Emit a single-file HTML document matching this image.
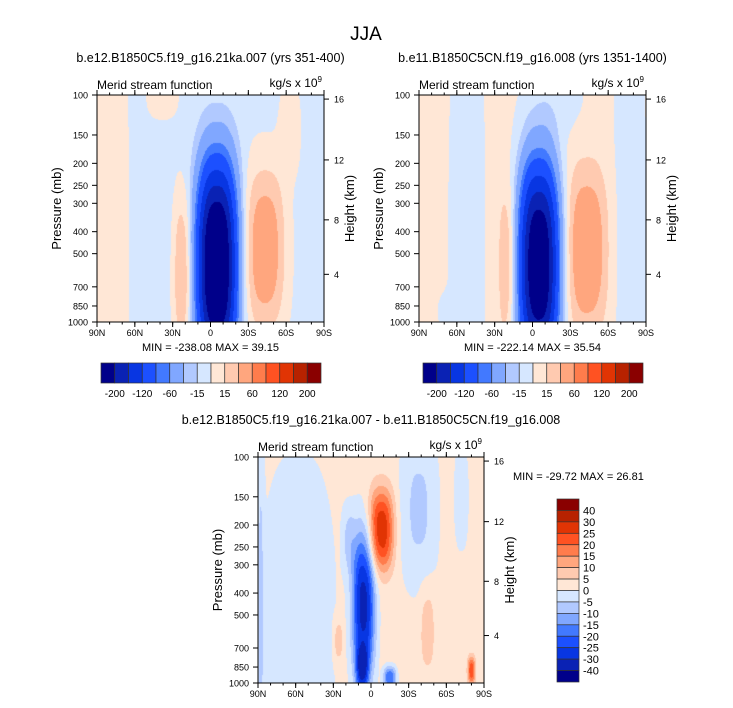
<!DOCTYPE html>
<html><head><meta charset="utf-8">
<style>
html,body{margin:0;padding:0;background:#fff;}
#root{position:relative;width:733px;height:708px;overflow:hidden;font-family:"Liberation Sans",Arial,sans-serif;}
canvas{position:absolute;}
svg{position:absolute;left:0;top:0;}
</style></head>
<body>
<div id="root">
<canvas id="c1"></canvas>
<canvas id="c2"></canvas>
<canvas id="c3"></canvas>
<svg id="ov" width="733" height="708"></svg>
</div>
<script>
// ---- data ----
const colors = ["#00008a","#0a22b4","#0836e2","#1c50ff","#4279ff","#80a7ff","#b1c9ff","#d6e7ff","#ffe7d6","#ffcab0","#ffa67e","#ff7c4c","#ff5222","#e13404","#b72200","#8a0000"];
const levelsFull = [-200,-160,-120,-80,-60,-30,-15,0,15,30,60,80,120,160,200];
const labelsFull = ["-200","-120","-60","-15","15","60","120","200"];
const levelsDiff = [-40,-30,-25,-20,-15,-10,-5,0,5,10,15,20,25,30,40];
const labelsDiff = ["40","30","25","20","15","10","5","0","-5","-10","-15","-20","-25","-30","-40"];
const latTicks = ["90N","60N","30N","0","30S","60S","90S"];
const presTicks = [100,150,200,250,300,400,500,700,850,1000];
const heightTicks = [16,12,8,4];
// blobs: lat (deg, S positive), pressure (mb), lat width, log-p width, amplitude
const base1 = -4;
const lat1 = [5, 43, -22, -78, -38, 63, -22];
const prs1 = [560, 480, 560, 400, 100, 140, 850];
const wl1 = [15.5, 16, 7, 14, 14, 9, 8];
const wp1 = [0.45, 0.36, 0.33, 1.2, 0.12, 0.22, 0.3];
const amp1 = [-265, 48, 30, 10, 9, 10, 8];
const base2 = 4;
const lat2 = [5, 43, -20, -52, 77, 18, -70];
const prs2 = [560, 480, 560, 400, 450, 100, 900];
const wl2 = [15.5, 16, 7, 16, 14, 24, 10];
const wp2 = [0.45, 0.36, 0.33, 1.2, 1.2, 0.2, 0.1];
const amp2 = [-252, 44, 27, -9, -10, -10, -4];
const base3 = 2;
const lat3 = [-6, -7, 8, 38, -58, 45, -26, 80, 15, -88, 72, -18];
const prs3 = [450, 880, 210, 170, 550, 560, 650, 880, 950, 400, 150, 230];
const wl3 = [9, 5, 10, 15, 28, 6, 4, 3, 5, 3, 6, 5];
const wp3 = [0.33, 0.1, 0.18, 0.35, 0.7, 0.2, 0.1, 0.06, 0.05, 1.2, 0.25, 0.15];
const amp3 = [-34, -22, 27, -8, -7, 6, 7, 22, -22, -6, -5, -7];

function field(s, p, base, lat, prs, wl, wp, amp){
  const z = Math.log10(p);
  let v = base;
  for(let k=0;k<lat.length;k++){
    const a = Math.abs((s-lat[k])/wl[k]), b = Math.abs((z-Math.log10(prs[k]))/wp[k]);
    v += amp[k]*Math.exp(-Math.pow(a,2.5)-Math.pow(b,2.5));
  }
  return v;
}
function colorIdx(v, lev){let i=0;while(i<lev.length && v>=lev[i]) i++;return i;}
function hex(h){return [parseInt(h.substr(1,2),16),parseInt(h.substr(3,2),16),parseInt(h.substr(5,2),16)];}
const rgb = colors.map(hex);

function drawField(id, x0,y0,W,H, base,lat,prs,wl,wp,amp, lev){
  const c=document.getElementById(id);
  c.width=W;c.height=H;c.style.left=x0+'px';c.style.top=y0+'px';
  const ctx=c.getContext('2d');const img=ctx.createImageData(W,H);
  for(let j=0;j<H;j++){
    const p=100*Math.pow(10,(j+0.5)/H);
    for(let i=0;i<W;i++){
      const s=-90+180*(i+0.5)/W;
      const col=rgb[colorIdx(field(s,p,base,lat,prs,wl,wp,amp),lev)];
      const o=(j*W+i)*4;img.data[o]=col[0];img.data[o+1]=col[1];img.data[o+2]=col[2];img.data[o+3]=255;
    }
  }
  ctx.putImageData(img,0,0);
}
const NS="http://www.w3.org/2000/svg";
const ov=document.getElementById('ov');
function el(tag,attrs,text){const e=document.createElementNS(NS,tag);for(const k in attrs)e.setAttribute(k,attrs[k]);if(text!==undefined)e.textContent=text;ov.appendChild(e);return e;}
function txt(x,y,s,size,anchor,name,extra){
  const e=el('text',Object.assign({x:x,y:y,'font-size':size,'text-anchor':anchor||'middle',fill:'#000','font-family':'Liberation Sans, Arial, sans-serif'},extra||{}),s);
  
  
  return e;
}
function line(x1,y1,x2,y2,name){
  const e=el('line',{x1:x1,y1:y1,x2:x2,y2:y2,stroke:'#000','stroke-width':1});
  
  
}
const heightFrac=[0.018,0.286,0.55,0.79];

function axes(x0,y0,W,H,title,mm,mmx,mmy,prefix){
  const yp=p=>y0+H*Math.log10(p/100);
  const r=el('rect',{x:x0,y:y0,width:W,height:H,fill:'none',stroke:'#000','stroke-width':1});
  
  
  latTicks.forEach((t,k)=>{const x=x0+W*k/6;
    line(x,y0+H,x,y0+H+5,prefix+'-x-tick');line(x,y0,x,y0-5,prefix+'-x-tick-top');
    txt(x,y0+H+14,t,9,'middle',prefix+'-x-tick-label');});
  for(let k=0;k<=18;k++){const x=x0+W*k/18;line(x,y0+H,x,y0+H+2.5,prefix+'-x-minor-tick');line(x,y0,x,y0-2.5,prefix+'-x-minor-tick-top');}
  presTicks.forEach(p=>{const y=yp(p);line(x0-5,y,x0,y,prefix+'-y-tick');txt(x0-9,y+3.5,String(p),9,'end',prefix+'-y-tick-label');});
  heightTicks.forEach((h,k)=>{const y=y0+H*heightFrac[k];line(x0+W,y,x0+W+5,y,prefix+'-height-tick');txt(x0+W+10,y+3.5,String(h),9,'start',prefix+'-height-tick-label');});
  txt(x0-40,y0+H/2,'Pressure (mb)',13,'middle',prefix+'-y-axis-title',{transform:`rotate(-90 ${x0-40} ${y0+H/2})`,dy:'4'});
  txt(x0+W+26,y0+H/2,'Height (km)',13,'middle',prefix+'-height-axis-title',{transform:`rotate(-90 ${x0+W+26} ${y0+H/2})`,dy:'4'});
  txt(x0,y0-6,'Merid stream function',12,'start',prefix+'-left-string');
  const u=txt(x0+W-2,y0-8,'kg/s x 10',12,'end',prefix+'-units');
  const sup=document.createElementNS(NS,'tspan');sup.setAttribute('font-size','8');sup.setAttribute('dy','-5');sup.textContent='9';u.appendChild(sup);
  txt(x0+W/2,y0-33,title,12.5,'middle',prefix+'-title');
  txt(mmx,mmy,mm,11,mmx===x0+W/2?'middle':'start',prefix+'-min-max',{'xml:space':'preserve'});
}
function hbar(x0,y0,W,H,prefix){
  const bw=W/16;
  colors.forEach((c,k)=>{const r=el('rect',{x:x0+k*bw,y:y0,width:bw,height:H,fill:c,stroke:'#333','stroke-width':0.7});
    
    });
  labelsFull.forEach((l,k)=>txt(x0+bw*(2*k+1),y0+H+14,l,10,'middle',prefix+'-colorbar-label'));
}
// panels
drawField('c1',97,95,227,227,base1,lat1,prs1,wl1,wp1,amp1,levelsFull);
drawField('c2',419,95,227,227,base2,lat2,prs2,wl2,wp2,amp2,levelsFull);
drawField('c3',258,457,226,226,base3,lat3,prs3,wl3,wp3,amp3,levelsDiff);
txt(366,40,'JJA',19,'middle','main-title');
axes(97,95,227,227,'b.e12.B1850C5.f19_g16.21ka.007 (yrs 351-400)','MIN = -238.08  MAX =  39.15',210.5,351,'left');
axes(419,95,227,227,'b.e11.B1850C5CN.f19_g16.008 (yrs 1351-1400)','MIN = -222.14  MAX =  35.54',532.5,351,'right');
axes(258,457,226,226,'b.e12.B1850C5.f19_g16.21ka.007 - b.e11.B1850C5CN.f19_g16.008','MIN = -29.72  MAX =  26.81',513,480,'diff');
hbar(101,363,220,20,'left');
hbar(423,363,220,20,'right');
// vertical colorbar
(function(){const x0=557,y0=499,W=22,H=183,bh=H/16;
  for(let k=0;k<16;k++){const r=el('rect',{x:x0,y:y0+k*bh,width:W,height:bh,fill:colors[15-k],stroke:'#333','stroke-width':0.7});
    
    }
  labelsDiff.forEach((l,k)=>txt(x0+W+4,y0+bh*(k+1)+4,l,11,'start','diff-colorbar-label'));
})();
</script>
</body></html>
